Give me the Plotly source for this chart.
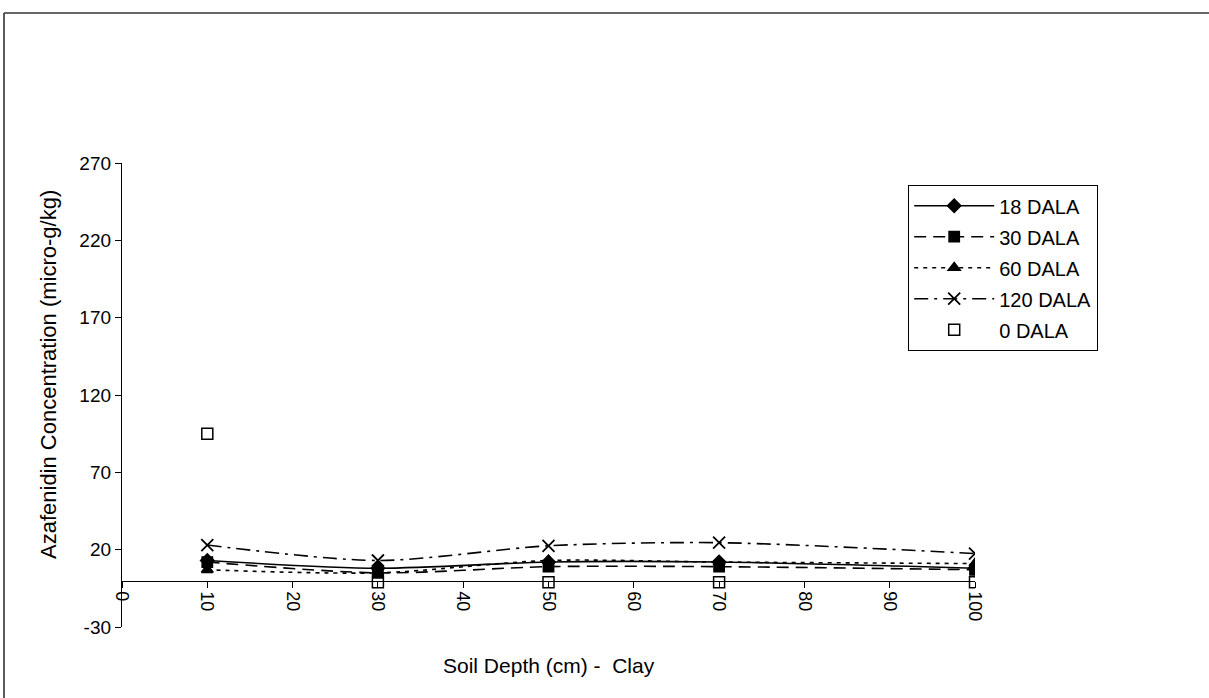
import plotly.graph_objects as go

depth = [10, 30, 50, 70, 100]
dala18 = [13, 8, 12, 12, 8]
dala30 = [12, 5, 9, 9, 7]
dala60 = [7, 5, 13, 12, 11]
dala120 = [23, 13, 22.5, 24.5, 17.5]
dala0 = [95, -1, -1, -1, -1]

x_ticks = list(range(0, 101, 10))
y_ticks = [-30, 20, 70, 120, 170, 220, 270]

FONT = "Liberation Sans, Arial, sans-serif"
W, H = 1209, 698
L, R, T, B = 122, 975, 163, 627

fig = go.Figure()

series = [
    ("18 DALA", dala18, "solid", "diamond", 10),
    ("30 DALA", dala30, "12px,7px", "square", 10),
    ("60 DALA", dala60, "4px,5px", "triangle-up", 10),
    ("120 DALA", dala120, "14px,6px,3px,6px", "x-thin-open", 12),
]
for i, (name, vals, dash, sym, size) in enumerate(series):
    fig.add_trace(go.Scatter(
        x=depth, y=vals, name=name, mode="lines+markers",
        line=dict(color="black", width=1.6, dash=dash, shape="spline", smoothing=0.8),
        marker=dict(symbol=sym, size=size, color="black",
                    line=dict(color="black", width=1.8)),
        legendgroup=f"g{i}",
    ))

fig.add_trace(go.Scatter(
    x=depth, y=dala0, name="0 DALA", mode="markers",
    marker=dict(symbol="square-open", size=11, color="black",
                line=dict(color="black", width=1.5)),
    legendgroup="g4",
))

pw, ph = R - L, B - T
def px(xp):
    return (xp - L) / pw
def py(yp):
    return (B - yp) / ph

fig.update_layout(
    width=W, height=H,
    margin=dict(l=L, r=W - R, t=T, b=H - B, pad=0),
    paper_bgcolor="white", plot_bgcolor="white",
    font=dict(family=FONT, size=19, color="black"),
    showlegend=True,
    legend=dict(
        x=px(908), y=py(185), xanchor="left", yanchor="top",
        bgcolor="white", bordercolor="black", borderwidth=1.2,
        font=dict(family=FONT, size=20, color="black"),
        tracegroupgap=2, itemwidth=80,
    ),
    xaxis=dict(
        range=[0, 100], tickvals=x_ticks, ticktext=[str(v) for v in x_ticks],
        tickangle=90, showgrid=False, zeroline=False,
        showline=True, linecolor="black", linewidth=1.3,
        ticks="outside", ticklen=6, tickcolor="black", tickwidth=1,
        anchor="free", position=0.1,
        tickfont=dict(family=FONT, size=18),
    ),
    yaxis=dict(
        range=[-30, 270], tickvals=y_ticks, ticktext=[str(v) for v in y_ticks],
        showgrid=False, zeroline=False,
        showline=True, linecolor="black", linewidth=1.3,
        ticks="outside", ticklen=6, tickcolor="black", tickwidth=1,
        tickfont=dict(family=FONT, size=19),
    ),
    annotations=[
        dict(text="Soil Depth (cm) -  Clay", x=0.5, y=py(665), xref="paper", yref="paper",
             xanchor="center", yanchor="middle", showarrow=False,
             font=dict(family=FONT, size=21)),
        dict(text="Azafenidin Concentration (micro-g/kg)", x=px(48), y=py(375),
             xref="paper", yref="paper", xanchor="center", yanchor="middle",
             textangle=-90, showarrow=False, font=dict(family=FONT, size=22)),
    ],
    shapes=[
        dict(type="line", xref="paper", yref="paper", x0=px(4), x1=px(1230),
             y0=py(13), y1=py(13), line=dict(color="#333333", width=1.6)),
        dict(type="line", xref="paper", yref="paper", x0=px(4), x1=px(4),
             y0=py(13), y1=py(720), line=dict(color="#333333", width=1.6)),
    ],
)

fig.write_html("out.html")
